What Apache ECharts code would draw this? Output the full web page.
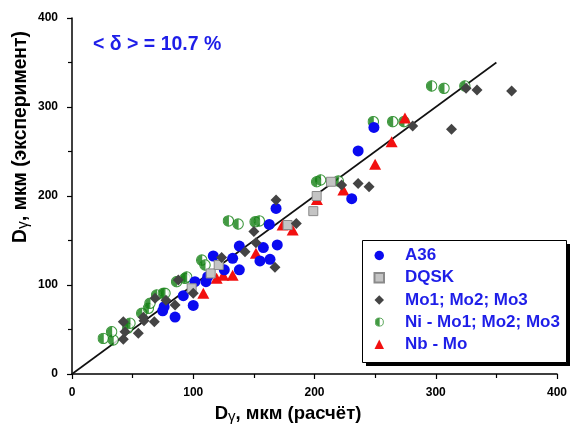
<!DOCTYPE html>
<html>
<head>
<meta charset="utf-8">
<script src="https://cdn.jsdelivr.net/npm/echarts@6/dist/echarts.min.js"></script>
<style>
  html, body { margin: 0; padding: 0; background: #fff; }
  #chart { width: 572px; height: 435px; }
</style>
</head>
<body>
<div id="chart"></div>
<script>
// Austenite grain size: calculated (x) vs measured (y), µm
const seriesNames = ['A36', 'DQSK', 'Mo1; Mo2; Mo3', 'Ni - Mo1; Mo2; Mo3', 'Nb - Mo'];

const a36 = [
  [74.8, 71], [76, 75.6], [85, 64], [91.8, 88], [100, 77], [101.4, 103.7],
  [110.5, 103.7], [111.9, 109.3], [116.5, 132.6], [125.6, 117], [132.5, 130],
  [138, 117], [138, 143.8], [155, 127], [157.8, 142], [162.7, 168],
  [163.3, 128.8], [168.3, 186], [169.3, 145], [230.7, 197], [236, 250.6], [249, 277]
];

const dqsk = [
  [98.7, 96.3], [114.4, 113], [121, 122.5], [177.8, 167.4], [199, 183],
  [201.8, 200], [213.6, 216]
];

const mo = [
  [42.3, 39], [43.7, 47.5], [42.3, 58.8], [54.7, 45.7], [59.4, 59.9], [58.8, 63.7],
  [67.9, 58.8], [68.5, 85], [77.5, 83], [85, 77.5], [87.7, 105.6], [100, 90.7],
  [123.4, 131], [142.7, 137.4], [150, 160], [151.7, 147.5], [167.4, 120],
  [168.3, 195.5], [185, 169], [222.4, 212.4], [236, 214], [245, 210.5],
  [281, 278.6], [313, 275], [325, 321], [334, 319], [362.6, 318]
];

const niMo = [
  [25.8, 40], [34, 38.2], [32.7, 47.5], [46, 51.6], [47.8, 57], [57.5, 68.2],
  [63, 73.8], [64.3, 79.4], [69.8, 88.8], [75.3, 90.7], [76.7, 90.7],
  [86.3, 103.7], [93.2, 107.5], [94.6, 109], [107, 128], [109.7, 122.5],
  [129, 172], [137, 168.5], [151, 171], [154.5, 172], [201.8, 216], [205, 218],
  [219.6, 216.8], [248.5, 283.5], [264.5, 283.5], [273.8, 283.5],
  [296.6, 323.6], [306.8, 321], [324, 323.6]
];

const nbMo = [
  [108.3, 90.7], [119.3, 107.5], [124.7, 111], [132.5, 111], [151.7, 135.6],
  [173.7, 167.4], [182, 161.8], [202, 196], [223.8, 206.7], [250, 235.6],
  [263.6, 261], [274.6, 287.6]
];

// y = x reference line
const identityLine = [[0, 0], [350, 350]];

const axisTicks = [0, 100, 200, 300, 400];

const FONT = 'Arial, "Liberation Sans", sans-serif';
const GREEN = '#138013';
const BLUE_TEXT = '#1e1ee8';

// half-filled circle marker (left half solid)
const halfCircleSvg =
  "<svg xmlns='http://www.w3.org/2000/svg' width='24' height='24' viewBox='0 0 24 24'>" +
  "<circle cx='12' cy='12' r='10.4' fill='white' stroke='" + GREEN + "' stroke-width='2.2'/>" +
  "<path d='M13 1.2 A10.8 10.8 0 0 0 13 22.8 Z' fill='" + GREEN + "'/></svg>";
const halfCircle = 'image://data:image/svg+xml;charset=utf-8,' + encodeURIComponent(halfCircleSvg);

const chart = echarts.init(document.getElementById('chart'), null, { renderer: 'canvas' });

const makeRich = (size) => ({
  d: { fontFamily: FONT, fontWeight: 'bold', fontSize: size, fill: '#000', color: '#000' },
  g: { fontFamily: FONT, fontWeight: 'normal', fontSize: size - 3.5, fill: '#000', color: '#000', padding: [5, 0, 0, 0] }
});
const titleText = (tail) => '{d|D}{g|γ}{d|, мкм (' + tail + ')}';

const axisCommon = {
  type: 'value',
  min: axisTicks[0],
  max: axisTicks[axisTicks.length - 1],
  interval: axisTicks[1] - axisTicks[0],
  splitLine: { show: false },
  axisLine: { show: true, onZero: false, lineStyle: { color: '#000', width: 1.5 } },
  axisTick: { show: true, inside: false, length: 5, lineStyle: { color: '#000', width: 1.2 } },
  minorTick: { show: true, splitNumber: 2, length: 4, lineStyle: { color: '#000', width: 1.2 } },
  axisLabel: { color: '#000', fontFamily: FONT, fontWeight: 'bold', fontSize: 12 }
};

chart.setOption({
  animation: false,
  backgroundColor: '#fff',
  grid: { left: 72, right: 15, top: 18, bottom: 61, containLabel: false },
  xAxis: Object.assign({}, axisCommon, {
    axisLabel: Object.assign({}, axisCommon.axisLabel, { margin: 13 })
  }),
  yAxis: Object.assign({}, axisCommon, {
    axisLabel: Object.assign({}, axisCommon.axisLabel, { margin: 14 })
  }),
  legend: {
    orient: 'vertical',
    left: 362,
    top: 247,
    data: seriesNames,
    itemWidth: 9.5,
    itemHeight: 9.5,
    itemGap: 5.2,
    padding: [0, 0, 0, 11.5],
    z: 10,
    textStyle: {
      color: BLUE_TEXT,
      fontFamily: FONT,
      fontWeight: 'bold',
      fontSize: 17,
      lineHeight: 17,
      padding: [0, 0, 0, 16]
    }
  },
  graphic: [
    // legend frame with solid drop shadow
    { type: 'rect', left: 366, top: 244, z: 8, shape: { width: 204, height: 122 }, style: { fill: '#000' } },
    { type: 'rect', left: 362, top: 240, z: 9, shape: { width: 204, height: 122 }, style: { fill: '#fff', stroke: '#000', lineWidth: 1 } },
    {
      type: 'text', left: 93, top: 35, z: 10,
      style: { text: '< δ > = 10.7 %', fill: BLUE_TEXT, font: 'bold 19.5px ' + FONT }
    },
    {
      type: 'text', x: 288, y: 414, z: 10,
      style: { text: titleText('расчёт'), rich: makeRich(18.5), align: 'center', verticalAlign: 'middle' }
    },
    {
      type: 'text', x: 21, y: 137, z: 10, rotation: Math.PI / 2,
      style: { text: titleText('эксперимент'), rich: makeRich(19.3), align: 'center', verticalAlign: 'middle' }
    }
  ],
  series: [
    {
      type: 'line',
      data: identityLine,
      symbol: 'none',
      lineStyle: { color: '#111', width: 1.6 },
      z: 1,
      silent: true
    },
    {
      name: 'Ni - Mo1; Mo2; Mo3',
      type: 'scatter',
      data: niMo,
      symbol: halfCircle,
      symbolSize: 12,
      z: 2
    },
    {
      name: 'Nb - Mo',
      type: 'scatter',
      data: nbMo,
      symbol: 'triangle',
      symbolSize: [12, 11],
      itemStyle: { color: '#f21010', opacity: 1 },
      z: 3
    },
    {
      name: 'A36',
      type: 'scatter',
      data: a36,
      symbol: 'circle',
      symbolSize: 11,
      itemStyle: { color: '#0a0af0', opacity: 1 },
      z: 4
    },
    {
      name: 'DQSK',
      type: 'scatter',
      data: dqsk,
      symbol: 'rect',
      symbolSize: 9,
      itemStyle: { color: '#c4c4c4', borderColor: '#8a8a8a', borderWidth: 1, opacity: 1 },
      z: 5
    },
    {
      name: 'Mo1; Mo2; Mo3',
      type: 'scatter',
      data: mo,
      symbol: 'diamond',
      symbolSize: 11,
      itemStyle: { color: '#444444', opacity: 1 },
      z: 6
    }
  ]
});
</script>
</body>
</html>
